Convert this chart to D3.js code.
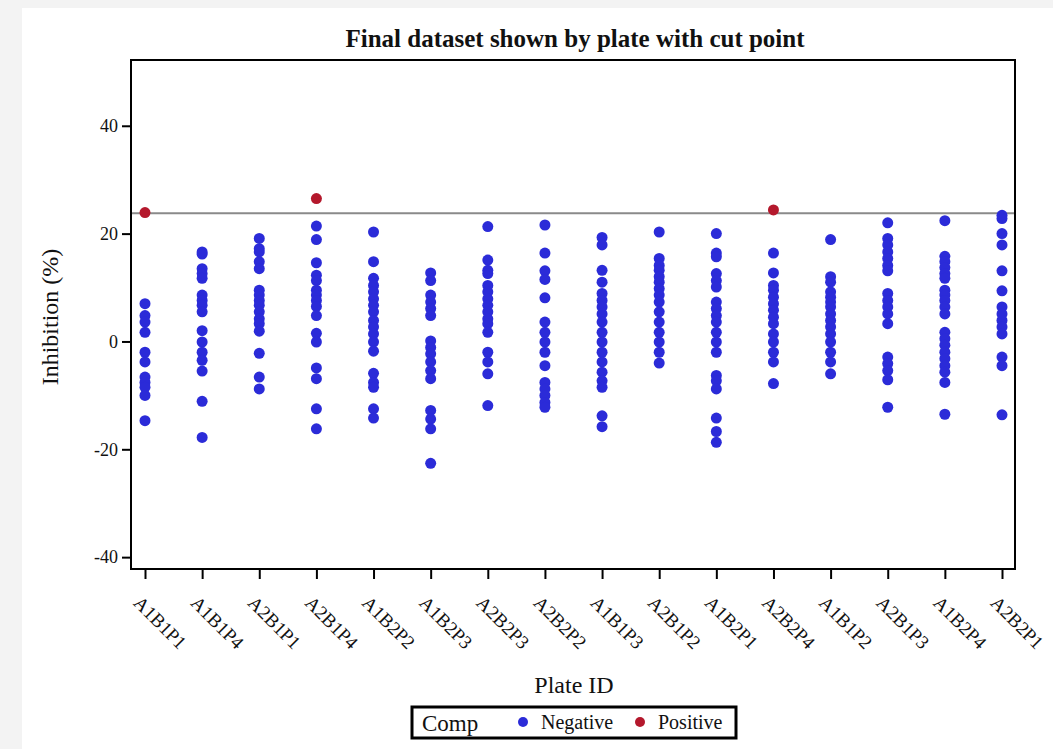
<!DOCTYPE html>
<html lang="en">
	<head>
		<meta charset="utf-8">
		<title>Final dataset shown by plate with cut point</title>
		<script type="text/javascript" src="https://cdn.jsdelivr.net/npm/d3@7"></script>
		<style type="text/css">
			body { margin: 0; background: #f3f3f3; }
			text { font-family: "Liberation Serif", "Times New Roman", serif; fill: #111; }
		</style>
	</head>
	<body>
		<script type="text/javascript">

		//Plate IDs in plotted order
		var plates = ["A1B1P1", "A1B1P4", "A2B1P1", "A2B1P4", "A1B2P2", "A1B2P3", "A2B2P3", "A2B2P2",
		              "A1B1P3", "A2B1P2", "A1B2P1", "A2B2P4", "A1B1P2", "A2B1P3", "A1B2P4", "A2B2P1"];

		//Negative inhibition values, one list per plate
		var A1B1P1 = [7.0, 4.8, 3.6, 1.7, -2.0, -3.8, -6.6, -7.6, -8.5, -10.0, -14.7];
		var A1B1P4 = [16.6, 16.2, 13.5, 12.6, 11.7, 8.6, 7.6, 6.7, 5.5, 2.0, -0.1, -2.0, -3.5, -5.5, -11.1, -17.8];
		var A2B1P1 = [19.1, 17.2, 16.6, 14.8, 13.5, 9.5, 8.6, 7.6, 6.7, 5.5, 4.2, 3.3, 1.9, -2.2, -6.6, -8.8];
		var A2B1P4 = [21.4, 18.9, 14.6, 12.3, 11.3, 9.5, 8.6, 7.6, 6.5, 4.8, 1.5, -0.1, -4.9, -6.9, -12.5, -16.2];
		var A1B2P2 = [20.3, 14.8, 11.7, 10.4, 9.2, 7.9, 6.7, 5.5, 3.9, 2.7, 1.4, -0.1, -1.8, -5.9, -7.6, -8.5, -12.5, -14.2];
		var A1B2P3 = [12.7, 11.3, 8.6, 7.3, 6.1, 4.8, 0.1, -1.1, -2.3, -3.8, -5.4, -6.9, -12.8, -14.4, -16.2, -22.6];
		var A2B2P3 = [21.3, 15.1, 13.2, 12.6, 10.4, 9.2, 7.9, 6.7, 5.5, 4.2, 3.3, 1.7, -2.0, -3.8, -6.0, -11.9];
		var A2B2P2 = [21.6, 16.4, 13.1, 11.5, 8.1, 3.6, 1.7, -0.1, -2.0, -4.5, -7.6, -8.8, -10.0, -11.3, -12.2];
		var A1B1P3 = [19.3, 17.9, 13.2, 11.0, 8.9, 7.6, 6.4, 5.1, 3.6, 1.7, -0.1, -2.0, -3.8, -5.7, -7.3, -8.5, -13.8, -15.8];
		var A2B1P2 = [20.3, 15.4, 14.1, 13.2, 12.0, 11.0, 9.8, 8.6, 7.3, 5.5, 3.6, 1.7, -0.1, -2.0, -4.0];
		var A1B2P1 = [20.0, 16.4, 15.7, 12.6, 11.3, 10.1, 7.3, 6.1, 4.8, 3.6, 1.7, -0.1, -2.0, -6.3, -7.3, -8.8, -14.2, -16.7, -18.7];
		var A2B2P4 = [16.4, 12.7, 10.4, 9.5, 8.2, 7.0, 5.8, 4.5, 3.3, 1.4, -0.1, -2.0, -3.8, -7.8];
		var A1B1P2 = [18.9, 12.0, 11.0, 9.2, 8.2, 7.3, 6.4, 5.1, 3.9, 2.7, 1.4, -0.1, -2.0, -3.8, -6.0];
		var A2B1P3 = [22.0, 19.1, 17.9, 16.6, 15.4, 14.1, 13.1, 8.9, 7.6, 6.4, 5.1, 3.3, -2.9, -4.1, -5.4, -7.1, -12.2];
		var A1B2P4 = [22.4, 15.8, 14.8, 13.7, 12.6, 11.7, 9.5, 8.6, 7.6, 6.4, 5.1, 1.7, 0.5, -0.7, -2.0, -3.2, -4.5, -5.7, -7.6, -13.5];
		var A2B2P1 = [23.4, 22.8, 20.0, 17.9, 13.1, 9.4, 6.4, 5.1, 3.9, 2.7, 1.4, -2.9, -4.5, -13.6];

		var negativeSeries = [A1B1P1, A1B1P4, A2B1P1, A2B1P4, A1B2P2, A1B2P3, A2B2P3, A2B2P2,
		                      A1B1P3, A2B1P2, A1B2P1, A2B2P4, A1B1P2, A2B1P3, A1B2P4, A2B2P1];

		//Positive points
		var positivePlates = ["A1B1P1", "A2B1P4", "A2B2P4"];
		var positiveValues = [23.9, 26.5, 24.4];

		//Cut point and axis ticks
		var cutPoint = 23.8;
		var yTicks = [-40, -20, 0, 20, 40];

		//Width and height
		var w = 1053;
		var h = 749;
		var plotLeft = 131, plotRight = 1015, plotTop = 60, plotBottom = 569;

		var blue = "#2b2bd8";
		var red = "#b4182c";

		var svg = d3.select("body")
					.append("svg")
					.attr("width", w)
					.attr("height", h);

		//White page area
		svg.append("rect")
			.attr("x", 22).attr("y", 8)
			.attr("width", w - 22).attr("height", h - 8)
			.attr("fill", "#fff");

		var x = d3.scalePoint()
					.domain(plates)
					.range([145, 1002]);

		var y = d3.scaleLinear()
					.domain([-42.2, 52.2])
					.range([plotBottom, plotTop]);

		//Points table built from the arrays
		var points = [];
		plates.forEach(function(p, i) {
			negativeSeries[i].forEach(function(v) {
				points.push({ plate: p, value: v, comp: "Negative" });
			});
		});
		positivePlates.forEach(function(p, i) {
			points.push({ plate: p, value: positiveValues[i], comp: "Positive" });
		});

		//Cut line
		svg.append("line")
			.attr("x1", plotLeft).attr("x2", plotRight)
			.attr("y1", y(cutPoint)).attr("y2", y(cutPoint))
			.attr("stroke", "#8a8a8a")
			.attr("stroke-width", 2);

		//Dots
		svg.selectAll("circle.pt")
			.data(points)
			.enter()
			.append("circle")
			.attr("class", "pt")
			.attr("cx", function(d) { return x(d.plate); })
			.attr("cy", function(d) { return y(d.value); })
			.attr("r", 5.5)
			.attr("fill", function(d) { return d.comp == "Positive" ? red : blue; });

		//Axes
		var xAxis = svg.append("g")
			.attr("transform", "translate(0," + plotBottom + ")")
			.call(d3.axisBottom(x).tickSize(10).tickSizeOuter(0));
		xAxis.select(".domain").remove();
		xAxis.selectAll("line").attr("stroke", "#000").attr("stroke-width", 2);
		xAxis.selectAll("text")
			.attr("font-size", 19)
			.attr("text-anchor", "start")
			.attr("dy", null)
			.attr("y", 0)
			.attr("transform", "translate(-13,35) rotate(45)");

		var yAxis = svg.append("g")
			.attr("transform", "translate(" + plotLeft + ",0)")
			.call(d3.axisLeft(y).tickValues(yTicks).tickSize(9).tickPadding(4)
				.tickFormat(function(d) { return String(d); }));
		yAxis.select(".domain").remove();
		yAxis.selectAll("line").attr("stroke", "#000").attr("stroke-width", 2);
		yAxis.selectAll("text")
			.attr("font-size", 18);

		//Frame
		svg.append("rect")
			.attr("x", plotLeft).attr("y", plotTop)
			.attr("width", plotRight - plotLeft).attr("height", plotBottom - plotTop)
			.attr("fill", "none")
			.attr("stroke", "#000")
			.attr("stroke-width", 2);

		//Title and axis labels
		svg.append("text")
			.attr("x", 575).attr("y", 47)
			.attr("text-anchor", "middle")
			.attr("font-size", 25)
			.attr("font-weight", "bold")
			.text("Final dataset shown by plate with cut point");

		svg.append("text")
			.attr("transform", "translate(58,317) rotate(-90)")
			.attr("text-anchor", "middle")
			.attr("font-size", 24)
			.text("Inhibition (%)");

		svg.append("text")
			.attr("x", 574).attr("y", 693)
			.attr("text-anchor", "middle")
			.attr("font-size", 24)
			.text("Plate ID");

		//Legend
		var legend = svg.append("g");
		legend.append("rect")
			.attr("x", 412).attr("y", 707)
			.attr("width", 324).attr("height", 31)
			.attr("fill", "#fff")
			.attr("stroke", "#000")
			.attr("stroke-width", 3);
		legend.append("text")
			.attr("x", 422).attr("y", 731)
			.attr("font-size", 23)
			.text("Comp");
		var items = [["Negative", blue, 523], ["Positive", red, 640]];
		items.forEach(function(it) {
			legend.append("circle")
				.attr("cx", it[2]).attr("cy", 722)
				.attr("r", 5)
				.attr("fill", it[1]);
			legend.append("text")
				.attr("x", it[2] + 18).attr("y", 729)
				.attr("font-size", 20)
				.text(it[0]);
		});

		</script>
	</body>
</html>
